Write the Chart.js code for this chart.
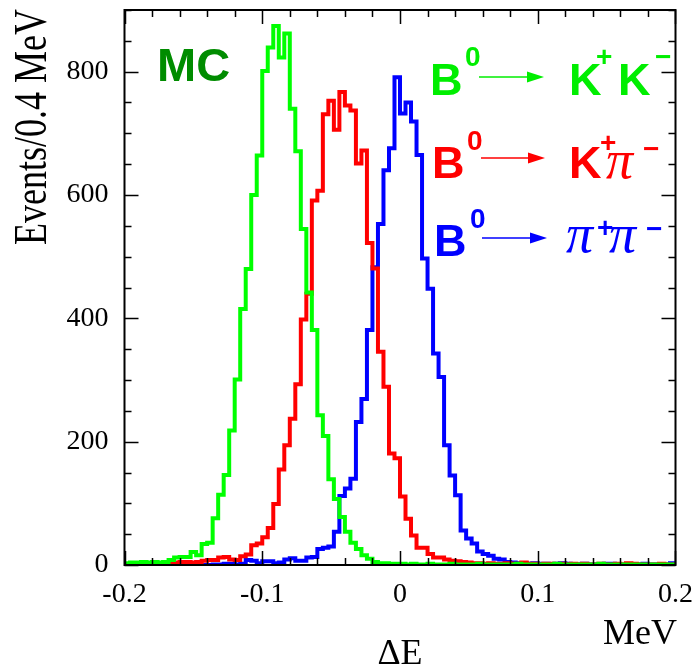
<!DOCTYPE html>
<html>
<head>
<meta charset="utf-8">
<script src="https://cdn.jsdelivr.net/npm/chart.js@4.4.1/dist/chart.umd.min.js"></script>
<style>
  html, body { margin: 0; padding: 0; background: #fff; }
  #wrap { width: 695px; height: 665px; }
</style>
</head>
<body>
<div id="wrap"><canvas id="deltaE"></canvas></div>
<script>
// histogram binning: 100 bins from -0.2 to 0.2
const xMin = -0.2;
const xMax = 0.2;
const binWidth = 0.004;

const xTicks = [-0.2, -0.1, 0, 0.1, 0.2];
const yTicks = [0, 200, 400, 600, 800];

// B0 -> K+ K-
const kk = [3, 4, 4, 5, 4, 5, 4, 5, 8, 12, 13, 13, 21, 16, 34, 36, 76, 114, 146, 218,
  301, 415, 480, 600, 664, 801, 839, 874, 823, 862, 740, 671, 545, 442, 381, 243, 209, 139, 107, 78,
  54, 36, 26, 16, 10, 5, 3, 3, 2, 2, 2, 1, 2, 1, 1, 2, 1, 1, 1, 2,
  1, 1, 1, 1, 2, 1, 1, 1, 1, 1, 1, 2, 1, 1, 1, 1, 1, 1, 2, 1,
  1, 1, 1, 1, 1, 1, 2, 1, 1, 1, 1, 1, 1, 1, 1, 1, 1, 1, 1, 1];

// B0 -> K+ pi-
const kpi = [1, 2, 1, 1, 2, 1, 1, 2, 3, 4, 5, 5, 4, 5, 7, 8, 8, 12, 13, 9,
  8, 14, 17, 32, 35, 45, 60, 99, 155, 194, 237, 293, 398, 440, 591, 607, 731, 753, 706, 767,
  745, 737, 651, 672, 522, 481, 346, 289, 181, 173, 111, 75, 48, 28, 28, 18, 12, 12, 9, 7,
  6, 5, 4, 3, 3, 2, 3, 2, 2, 3, 2, 2, 4, 2, 2, 1, 2, 2, 1, 2,
  1, 2, 1, 2, 1, 1, 2, 1, 1, 2, 1, 3, 2, 1, 1, 1, 1, 2, 1, 1];

// B0 -> pi+ pi-
const pipi = [0, 0, 0, 0, 0, 0, 0, 0, 0, 0, 0, 0, 0, 0, 0, 0, 1, 1, 2, 2,
  1, 2, 8, 7, 3, 6, 6, 3, 4, 9, 11, 7, 7, 12, 13, 26, 28, 30, 54, 112,
  124, 140, 232, 269, 381, 483, 553, 640, 676, 791, 732, 750, 719, 665, 497, 448, 343, 305, 194, 145,
  113, 56, 43, 35, 22, 18, 15, 10, 9, 5, 4, 3, 3, 2, 3, 2, 2, 1, 2, 3,
  2, 1, 1, 2, 1, 1, 1, 2, 2, 1, 1, 1, 1, 1, 2, 1, 1, 1, 1, 3];

function toSteps(vals) {
  // left edge of each bin, plus the right edge of the last one
  let pts = [];
  for (let i = 0; i < vals.length; i++) {
    pts.push({ x: xMin + i * binWidth, y: vals[i] });
  }
  pts.push({ x: xMax, y: vals[vals.length - 1] });
  return pts;
}

function histo(vals, color, order) {
  return {
    data: toSteps(vals),
    borderColor: color,
    borderWidth: 4,
    pointRadius: 0,
    stepped: true,
    fill: false,
    order: order,
    borderJoinStyle: 'miter'
  };
}

// no extra room for half labels, the frame has to sit where the reference has it
function noPad(s) {
  s.paddingTop = 0;
  s.paddingBottom = 0;
  s.paddingLeft = 0;
  s.paddingRight = 0;
}

const serif = '"Liberation Serif", "Times New Roman", serif';
const sans = '"Liberation Sans", Arial, sans-serif';

// frame, inward ticks, titles and the decay labels
const decorations = {
  id: 'decorations',
  afterDatasetsDraw(chart) {
    const ctx = chart.ctx;
    const a = chart.chartArea;
    const xs = chart.scales.x;
    const ys = chart.scales.y;
    ctx.save();
    ctx.strokeStyle = '#000';
    ctx.lineWidth = 1.5;
    ctx.beginPath();
    for (let v = xMin; v <= xMax + 1e-9; v += 0.02) {
      const px = Math.round(xs.getPixelForValue(v)) + 0.5;
      const major = Math.abs(v * 10 - Math.round(v * 10)) < 1e-6;
      const len = major ? 14 : 7;
      ctx.moveTo(px, a.bottom); ctx.lineTo(px, a.bottom - len);
      ctx.moveTo(px, a.top); ctx.lineTo(px, a.top + len);
    }
    for (let v = 0; v <= 900; v += 50) {
      const py = Math.round(ys.getPixelForValue(v)) + 0.5;
      const len = v % 200 == 0 ? 14 : 7;
      ctx.moveTo(a.left, py); ctx.lineTo(a.left + len, py);
      ctx.moveTo(a.right, py); ctx.lineTo(a.right - len, py);
    }
    ctx.stroke();
    ctx.lineWidth = 2;
    ctx.strokeRect(a.left, a.top, a.right - a.left, a.bottom - a.top);

    // axis titles
    ctx.fillStyle = '#000';
    ctx.font = '36px ' + serif;
    ctx.textAlign = 'center';
    ctx.textBaseline = 'alphabetic';
    ctx.fillText('\u0394E', 400, 664);
    ctx.fillText('MeV', 640, 644);
    ctx.save();
    // y title is tall and narrow in the reference
    ctx.translate(46, 245);
    ctx.rotate(-Math.PI / 2);
    ctx.scale(1, 1.3);
    ctx.textAlign = 'left';
    ctx.fillText('Events/0.4 MeV', 0, 0);
    ctx.restore();

    // MC tag
    ctx.textAlign = 'left';
    ctx.fillStyle = '#008c00';
    ctx.font = 'bold 47px ' + sans;
    ctx.fillText('MC', 157, 81);

    function txt(s, x, y, font, color) {
      ctx.font = font;
      ctx.fillStyle = color;
      ctx.fillText(s, x, y);
    }
    function arrow(x0, x1, y, color) {
      ctx.strokeStyle = color;
      ctx.fillStyle = color;
      ctx.lineWidth = 1.5;
      ctx.beginPath();
      ctx.moveTo(x0, y); ctx.lineTo(x1 - 14, y);
      ctx.stroke();
      ctx.beginPath();
      ctx.moveTo(x1, y); ctx.lineTo(x1 - 17, y - 5.5); ctx.lineTo(x1 - 17, y + 5.5);
      ctx.closePath();
      ctx.fill();
    }
    const big = 'bold 45px ' + sans;
    const sup = 'bold 28px ' + sans;
    const pi = 'italic 54px ' + serif;

    let g = '#00ee00';
    txt('B', 430, 95, big, g); txt('0', 465, 66, sup, g);
    arrow(479, 544, 77, g);
    txt('K', 569, 95, big, g); txt('+', 596, 66, sup, g);
    txt('K', 618, 95, big, g); txt('\u2212', 655, 66, sup, g);

    let r = '#ff0000';
    txt('B', 432, 178, big, r); txt('0', 467, 150, sup, r);
    arrow(481, 545, 158, r);
    txt('K', 569, 178, big, r); txt('+', 600, 152, sup, r);
    txt('\u03c0', 606, 178, pi, r); txt('\u2212', 643, 158, sup, r);

    let b = '#0000ff';
    txt('B', 434, 256, big, b); txt('0', 470, 228, sup, b);
    arrow(482, 547, 238, b);
    txt('\u03c0', 566, 252, pi, b); txt('+', 597, 237, sup, b);
    txt('\u03c0', 609, 252, pi, b); txt('\u2212', 646, 238, sup, b);
    ctx.restore();
  }
};

new Chart(document.getElementById('deltaE'), {
  type: 'line',
  data: {
    datasets: [
      histo(kk, '#00ff00', 0),
      histo(kpi, '#ff0000', 1),
      histo(pipi, '#0000ff', 2)
    ]
  },
  options: {
    responsive: true,
    maintainAspectRatio: false,
    animation: false,
    events: [],
    layout: { padding: { left: 0, right: 19.5, top: 10, bottom: 0 } },
    plugins: { legend: { display: false }, tooltip: { enabled: false } },
    scales: {
      x: {
        type: 'linear',
        min: xMin,
        max: xMax,
        afterBuildTicks: s => { s.ticks = xTicks.map(v => ({ value: v })); },
        afterFit: s => { s.height = 100; noPad(s); },
        grid: { display: false, drawTicks: false },
        border: { display: false },
        ticks: {
          padding: 13,
          color: '#000',
          font: { family: serif, size: 28 },
          maxRotation: 0,
          callback: v => String(Number(v.toFixed(1)))
        }
      },
      y: {
        min: 0,
        max: 900,
        afterBuildTicks: s => { s.ticks = yTicks.map(v => ({ value: v })); },
        afterFit: s => { s.width = 124.5; noPad(s); },
        grid: { display: false, drawTicks: false },
        border: { display: false },
        ticks: {
          padding: 16,
          color: '#000',
          font: { family: serif, size: 28 },
          callback: v => String(v)
        }
      }
    }
  },
  plugins: [decorations]
});
</script>
</body>
</html>
